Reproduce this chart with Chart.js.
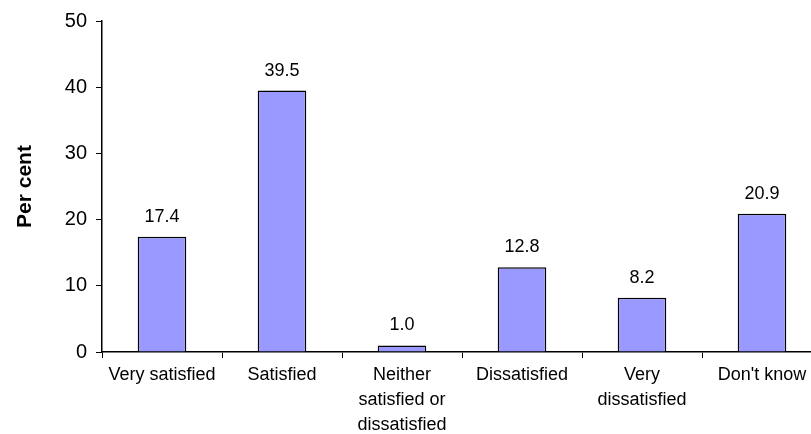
<!DOCTYPE html>
<html>
<head>
<meta charset="utf-8">
<script src="https://cdn.jsdelivr.net/npm/chart.js@4/dist/chart.umd.min.js"></script>
<style>
  html, body { margin: 0; padding: 0; background: #ffffff; overflow: hidden; }
  #wrap { width: 811px; height: 434px; overflow: hidden; }
</style>
</head>
<body>
<div id="wrap"><canvas id="bars" width="830" height="434"></canvas></div>
<script>
const categories = [
  "Very satisfied",
  "Satisfied",
  ["Neither", "satisfied or", "dissatisfied"],
  "Dissatisfied",
  ["Very", "dissatisfied"],
  "Don't know"
];
const perCent = [17.4, 39.5, 1.0, 12.8, 8.2, 20.9];
const yTicks = [0, 10, 20, 30, 40, 50];

const font = "'Liberation Sans', Arial, sans-serif";

// value labels above each bar
const barLabels = {
  id: "barLabels",
  afterDatasetsDraw(chart) {
    const ctx = chart.ctx;
    const meta = chart.getDatasetMeta(0);
    ctx.save();
    ctx.font = "18px " + font;
    ctx.fillStyle = "#000000";
    ctx.textAlign = "center";
    ctx.textBaseline = "alphabetic";
    meta.data.forEach(function (bar, i) {
      ctx.fillText(perCent[i].toFixed(1), bar.x, bar.y - 15);
    });
    ctx.restore();
  }
};

const chart = new Chart(document.getElementById("bars").getContext("2d"), {
  type: "bar",
  data: {
    labels: categories,
    datasets: [
      {
        data: perCent,
        backgroundColor: "#9999ff",
        borderColor: "#000000",
        borderWidth: 1.5,
        barPercentage: 0.405,
        categoryPercentage: 1
      }
    ]
  },
  options: {
    responsive: false,
    animation: false,
    layout: { padding: { left: 0, right: 8, top: 19, bottom: 0 } },
    plugins: {
      legend: { display: false },
      tooltip: { enabled: false }
    },
    scales: {
      x: {
        grid: {
          display: true,
          offset: true,
          drawOnChartArea: false,
          drawTicks: true,
          tickLength: 6,
          color: "#000000",
          lineWidth: 1
        },
        border: { color: "#000000", width: 1.5 },
        ticks: {
          color: "#000000",
          font: { family: font, size: 18, lineHeight: 1.4 },
          padding: 4,
          maxRotation: 0,
          autoSkip: false
        },
        afterFit: function (s) { s.height = 82; }
      },
      y: {
        min: 0,
        max: 50,
        afterBuildTicks: function (s) {
          s.ticks = yTicks.map(function (v) { return { value: v }; });
        },
        grid: {
          display: true,
          drawOnChartArea: false,
          drawTicks: true,
          tickLength: 6,
          color: "#000000",
          lineWidth: 1
        },
        border: { color: "#000000", width: 1.5 },
        ticks: {
          color: "#000000",
          font: { family: font, size: 20 },
          padding: 9
        },
        title: {
          display: true,
          text: "Per cent",
          color: "#000000",
          font: { family: font, size: 21, weight: "bold" },
          padding: { top: 13, bottom: 0 }
        },
        afterFit: function (s) { s.width = 102; }
      }
    }
  },
  plugins: [barLabels]
});
</script>
</body>
</html>
